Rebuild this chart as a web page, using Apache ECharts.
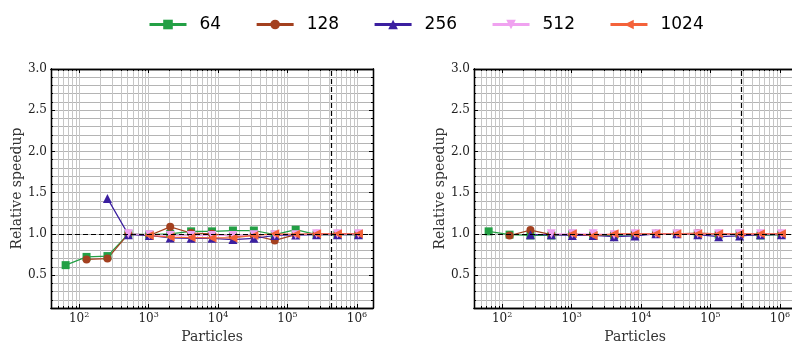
<!DOCTYPE html>
<html>
<head>
<meta charset="utf-8">
<script src="https://cdn.jsdelivr.net/npm/echarts@6/dist/echarts.min.js"></script>
<style>
  html, body { margin: 0; padding: 0; background: #fff; }
  #chart { width: 792px; height: 344px; }
</style>
</head>
<body>
<div id="chart"></div>
<script>
// particle counts (x)
const particles = [64, 128, 256, 512, 1024, 2048, 4096, 8192, 16384, 32768, 65536, 131072, 262144, 524288, 1048576];
const names = ["64", "128", "256", "512", "1024"];

// left panel
const left64 = [0.62, 0.72, 0.73, 1.0, 0.99, 1.0, 1.03, 1.03, 1.04, 1.04, 0.99, 1.05, 0.99, 0.99, 0.99];
const left128 = [null, 0.69, 0.70, 1.0, 0.98, 1.085, 1.01, 1.0, 0.97, 0.98, 0.92, 0.99, 1.0, 1.0, 1.0];
const left256 = [null, null, 1.43, 0.99, 0.98, 0.95, 0.945, 0.945, 0.93, 0.945, 0.98, 0.985, 0.99, 0.99, 0.99];
const left512 = [null, null, null, 1.0, 0.99, 0.98, 0.98, 0.98, 0.98, 0.99, 0.99, 0.99, 1.0, 1.0, 1.0];
const left1024 = [null, null, null, null, 0.98, 0.96, 0.955, 0.95, 0.95, 0.98, 1.0, 0.995, 1.0, 1.0, 1.0];
const leftCut = 423000;

// right panel
const right64 = [1.03, 0.99, 0.98, 0.98, 1.0, 0.98, 0.98, 0.99, 1.0, 1.0, 1.0, 0.99, 1.0, 0.98, 0.99];
const right128 = [null, 0.98, 1.045, 0.99, 0.99, 0.99, 0.99, 1.0, 1.0, 1.0, 1.01, 1.0, 0.99, 0.99, 1.0];
const right256 = [null, null, 0.99, 0.99, 0.98, 0.98, 0.965, 0.975, 1.0, 1.0, 0.99, 0.965, 0.975, 0.99, 0.99];
const right512 = [null, null, null, 1.0, 1.0, 1.0, 0.99, 1.0, 1.0, 1.0, 1.0, 1.0, 1.0, 1.0, 1.0];
const right1024 = [null, null, null, null, 1.0, 0.98, 1.0, 1.0, 1.0, 1.0, 1.0, 1.0, 1.0, 1.0, 1.0];
const rightCut = 279000;

// axes
const xMin = 39.4, xMax = 1.70e6;
const yMin = 0.1, yMax = 3.0;
const xTickLabels = [100, 1000, 10000, 100000, 1000000];
const yTickLabels = [0.5, 1.0, 1.5, 2.0, 2.5, 3.0];

const colors = ["#23a045", "#a3401f", "#3b1fa0", "#f0a2f0", "#f4623a"];
const symbols = ["rect", "circle", "triangle", "triangle", "triangle"];
const rotates = [0, 0, 0, 180, 90];
const sizes = [8, 8, 9, 9, 9];

const xMinor = [];
for (let k = 1; k <= 6; k++) {
  for (let m = 1; m <= 9; m++) {
    const v = m * Math.pow(10, k);
    if (v >= xMin && v <= xMax) xMinor.push(v);
  }
}
const yMinor = [];
for (let i = 1; i <= 30; i++) yMinor.push(Math.round(i) / 10);

const serif = "DejaVu Serif";
const frame = { show: true, lineStyle: { color: "#000", width: 1.3 } };

function tick(vals, len) {
  return { show: true, inside: true, length: len, customValues: vals, lineStyle: { color: "#000", width: 1 } };
}

function xAxes(g) {
  const base = {
    type: "log", logBase: 10, min: xMin, max: xMax, gridIndex: g,
    axisLine: frame, axisLabel: { show: false }, splitLine: { show: false },
  };
  return [
    {
      ...base, position: "bottom", axisTick: tick(xMinor, 2),
      splitLine: { show: true, lineStyle: { color: "#c6c6c6", width: 1 } },
      axisLabel: {
        show: true, customValues: xTickLabels, margin: 3,
        formatter: v => "{b|10}{s|" + Math.round(Math.log10(v)) + "}",
        rich: {
          b: { fontFamily: serif, fontSize: 12, color: "#222", lineHeight: 16 },
          s: { fontFamily: serif, fontSize: 8, color: "#222", lineHeight: 9, verticalAlign: "top" },
        },
      },
      name: "Particles", nameLocation: "middle", nameGap: 17,
      nameTextStyle: { fontFamily: serif, fontSize: 14, color: "#333" },
    },
    { ...base, position: "top", axisTick: tick(xMinor, 2) },
    { ...base, position: "bottom", axisTick: tick(xTickLabels, 4) },
    { ...base, position: "top", axisTick: tick(xTickLabels, 4) },
  ];
}

function yAxes(g) {
  const base = {
    type: "value", min: yMin, max: yMax, gridIndex: g,
    axisLine: frame, axisLabel: { show: false }, splitLine: { show: false },
  };
  return [
    {
      ...base, position: "left", axisTick: tick(yMinor, 2),
      splitLine: { show: true, lineStyle: { color: "#b4b4b4", width: 1 } },
      axisLabel: {
        show: true, customValues: yTickLabels, margin: 4,
        formatter: v => v.toFixed(1),
        fontFamily: serif, fontSize: 12, color: "#222",
      },
      name: "Relative speedup", nameLocation: "middle", nameGap: 27, nameRotate: 90,
      nameTextStyle: { fontFamily: serif, fontSize: 14, color: "#333" },
    },
    { ...base, position: "right", axisTick: tick(yMinor, 2) },
    { ...base, position: "left", axisTick: tick(yTickLabels, 4) },
    { ...base, position: "right", axisTick: tick(yTickLabels, 4) },
  ];
}

function panelSeries(g, sets, cut) {
  return sets.map((vals, i) => {
    const s = {
      name: names[i],
      type: "line",
      xAxisIndex: g * 4,
      yAxisIndex: g * 4,
      data: particles.map((p, j) => [p, vals[j]]).filter(d => d[1] !== null),
      symbol: symbols[i],
      symbolRotate: rotates[i],
      symbolSize: sizes[i],
      showAllSymbol: true,
      color: colors[i],
      lineStyle: { width: 1.2 },
      emphasis: { disabled: true },
    };
    if (i === sets.length - 1) {
      s.markLine = {
        silent: true, symbol: "none", label: { show: false },
        lineStyle: { color: "#000", type: [5, 3], width: 1.2 },
        data: [{ yAxis: 1.0 }, { xAxis: cut }],
      };
    }
    return s;
  });
}

const chart = echarts.init(document.getElementById("chart"));
chart.setOption({
  animation: false,
  legend: {
    top: 11, left: 143,
    itemWidth: 37, itemHeight: 12, itemGap: 34,
    textStyle: { fontFamily: "DejaVu Sans", fontSize: 17, color: "#000", padding: [0, 0, 0, 8] },
    lineStyle: { width: 3 },
    data: names,
  },
  grid: [
    { left: 51, top: 69, width: 322, height: 239, outerBoundsMode: "none" },
    { left: 474, top: 69, width: 322, height: 239, outerBoundsMode: "none" },
  ],
  xAxis: [...xAxes(0), ...xAxes(1)],
  yAxis: [...yAxes(0), ...yAxes(1)],
  series: [
    ...panelSeries(0, [left64, left128, left256, left512, left1024], leftCut),
    ...panelSeries(1, [right64, right128, right256, right512, right1024], rightCut),
  ],
});
</script>
</body>
</html>
